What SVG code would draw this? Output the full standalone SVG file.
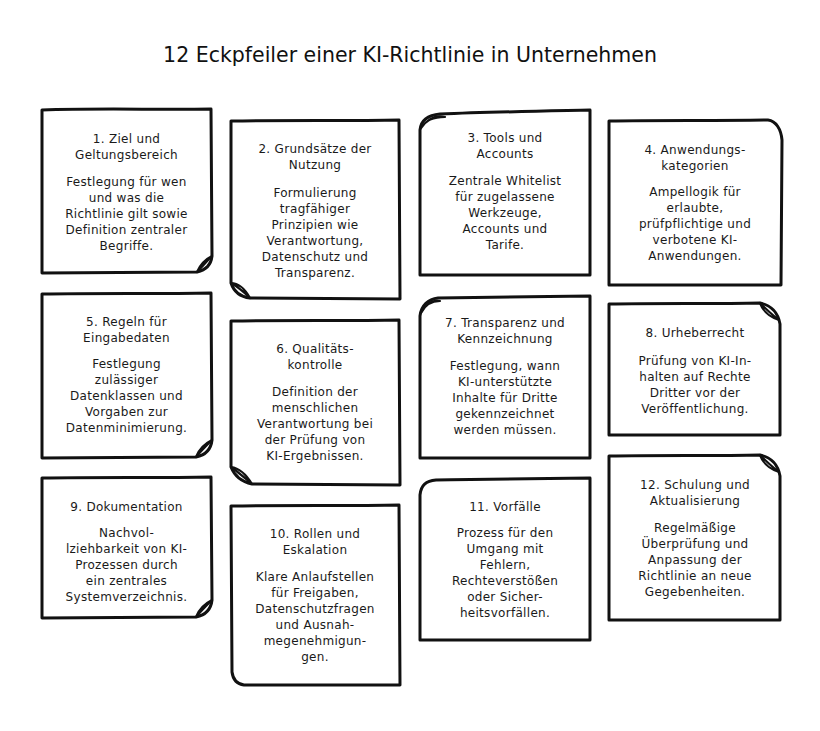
<svg xmlns="http://www.w3.org/2000/svg" width="820" height="731" viewBox="0 0 820 731">
<style>
.bg{fill:#ffffff}
.card{fill:#ffffff;stroke:#111111;stroke-width:3;stroke-linejoin:round;stroke-linecap:round}
.fold{fill:#ffffff;stroke:#111111;stroke-width:2.2;stroke-linejoin:round;stroke-linecap:round}
.t{font-family:"DejaVu Sans","Liberation Sans",sans-serif;font-size:12px;letter-spacing:0.3px;fill:#1a1a1a;text-anchor:middle}
.h{font-family:"DejaVu Sans","Liberation Sans",sans-serif;font-size:20.5px;fill:#111111;text-anchor:middle}
</style>
<rect class="bg" x="0" y="0" width="820" height="731"/>
<text class="h" x="410" y="62">12 Eckpfeiler einer KI-Richtlinie in Unternehmen</text>

<g id="card1">
<path class="card" d="M42,110 C100,108 160,110 211,109 L212,256 C211,265 206,270 197,272 L42,273 Z"/>
<path class="fold" d="M197,272 C200,265 204,260 212,256 C206,262 202,267 197,272 Z"/>
<text class="t" x="126.5" y="143">1. Ziel und</text>
<text class="t" x="126.5" y="159">Geltungsbereich</text>
<text class="t" x="126.5" y="186">Festlegung für wen</text>
<text class="t" x="126.5" y="202">und was die</text>
<text class="t" x="126.5" y="218">Richtlinie gilt sowie</text>
<text class="t" x="126.5" y="234">Definition zentraler</text>
<text class="t" x="126.5" y="250">Begriffe.</text>
</g>

<g id="card2">
<path class="card" d="M231,121 C290,120 350,121 399,120 L400,299 L250,298 C241,297 234,292 231,283 Z"/>
<path class="fold" d="M231,283 C238,283 245,289 250,298 C244,292 238,287 231,283 Z"/>
<text class="t" x="315" y="153">2. Grundsätze der</text>
<text class="t" x="315" y="169">Nutzung</text>
<text class="t" x="315" y="197">Formulierung</text>
<text class="t" x="315" y="213">tragfähiger</text>
<text class="t" x="315" y="229">Prinzipien wie</text>
<text class="t" x="315" y="245">Verantwortung,</text>
<text class="t" x="315" y="261">Datenschutz und</text>
<text class="t" x="315" y="277">Transparenz.</text>
</g>

<g id="card3">
<path class="card" d="M420,275 L420,130 C421,120 428,115 440,114 C490,112 545,111 590,110 L590,275 Z"/>
<path class="fold" d="M421,128 C425,121 433,117 445,117 C437,115 428,118 421,128 Z"/>
<text class="t" x="505" y="142">3. Tools und</text>
<text class="t" x="505" y="158">Accounts</text>
<text class="t" x="505" y="185">Zentrale Whitelist</text>
<text class="t" x="505" y="201">für zugelassene</text>
<text class="t" x="505" y="217">Werkzeuge,</text>
<text class="t" x="505" y="233">Accounts und</text>
<text class="t" x="505" y="249">Tarife.</text>
</g>

<g id="card4">
<path class="card" d="M609,121 C660,120 720,121 768,120 C776,121 781,129 782,140 L781,285 L609,285 Z"/>
<text class="t" x="695" y="154">4. Anwendungs-</text>
<text class="t" x="695" y="170">kategorien</text>
<text class="t" x="695" y="196">Ampellogik für</text>
<text class="t" x="695" y="212">erlaubte,</text>
<text class="t" x="695" y="228">prüfpflichtige und</text>
<text class="t" x="695" y="244">verbotene KI-</text>
<text class="t" x="695" y="260">Anwendungen.</text>
</g>

<g id="card5">
<path class="card" d="M42,294 C100,293 160,294 211,293 L212,440 C211,449 206,455 196,457 L42,458 Z"/>
<path class="fold" d="M196,457 C199,449 204,444 212,440 C206,446 201,451 196,457 Z"/>
<text class="t" x="126.5" y="326">5. Regeln für</text>
<text class="t" x="126.5" y="342">Eingabedaten</text>
<text class="t" x="126.5" y="368">Festlegung</text>
<text class="t" x="126.5" y="384">zulässiger</text>
<text class="t" x="126.5" y="400">Datenklassen und</text>
<text class="t" x="126.5" y="416">Vorgaben zur</text>
<text class="t" x="126.5" y="432">Datenminimierung.</text>
</g>

<g id="card6">
<path class="card" d="M231,321 C290,320 350,321 399,320 L400,485 L252,484 C242,482 235,477 231,467 Z"/>
<path class="fold" d="M231,467 C239,468 246,474 252,484 C245,478 238,472 231,467 Z"/>
<text class="t" x="315" y="353">6. Qualitäts-</text>
<text class="t" x="315" y="369">kontrolle</text>
<text class="t" x="315" y="396">Definition der</text>
<text class="t" x="315" y="412">menschlichen</text>
<text class="t" x="315" y="428">Verantwortung bei</text>
<text class="t" x="315" y="444">der Prüfung von</text>
<text class="t" x="315" y="460">KI-Ergebnissen.</text>
</g>

<g id="card7">
<path class="card" d="M420,458 L420,316 C421,306 428,299 438,298 C490,297 545,297 590,296 L590,458 Z"/>
<path class="fold" d="M421,313 C425,305 432,301 440,301 C433,299 426,304 421,313 Z"/>
<text class="t" x="505" y="327">7. Transparenz und</text>
<text class="t" x="505" y="343">Kennzeichnung</text>
<text class="t" x="505" y="370">Festlegung, wann</text>
<text class="t" x="505" y="386">KI-unterstützte</text>
<text class="t" x="505" y="402">Inhalte für Dritte</text>
<text class="t" x="505" y="418">gekennzeichnet</text>
<text class="t" x="505" y="434">werden müssen.</text>
</g>

<g id="card8">
<path class="card" d="M609,304 C660,303 715,304 760,303 C771,305 778,313 780,324 L780,435 L609,435 Z"/>
<path class="fold" d="M760,303 C763,311 769,317 779,320 C771,314 766,309 760,303 Z"/>
<text class="t" x="695" y="337">8. Urheberrecht</text>
<text class="t" x="695" y="365">Prüfung von KI-In-</text>
<text class="t" x="695" y="381">halten auf Rechte</text>
<text class="t" x="695" y="397">Dritter vor der</text>
<text class="t" x="695" y="413">Veröffentlichung.</text>
</g>

<g id="card9">
<path class="card" d="M42,478 C100,477 160,478 211,477 L212,600 C211,609 206,615 196,617 L42,618 Z"/>
<path class="fold" d="M196,617 C199,609 204,604 212,600 C206,606 201,611 196,617 Z"/>
<text class="t" x="126.5" y="511">9. Dokumentation</text>
<text class="t" x="126.5" y="537">Nachvol-</text>
<text class="t" x="126.5" y="553">lziehbarkeit von KI-</text>
<text class="t" x="126.5" y="569">Prozessen durch</text>
<text class="t" x="126.5" y="585">ein zentrales</text>
<text class="t" x="126.5" y="601">Systemverzeichnis.</text>
</g>

<g id="card10">
<path class="card" d="M231,506 C290,505 350,506 399,505 L400,685 L244,685 C237,684 233,680 232,672 Z"/>
<text class="t" x="315" y="538">10. Rollen und</text>
<text class="t" x="315" y="554">Eskalation</text>
<text class="t" x="315" y="581">Klare Anlaufstellen</text>
<text class="t" x="315" y="597">für Freigaben,</text>
<text class="t" x="315" y="613">Datenschutzfragen</text>
<text class="t" x="315" y="629">und Ausnah-</text>
<text class="t" x="315" y="645">megenehmigun-</text>
<text class="t" x="315" y="661">gen.</text>
</g>

<g id="card11">
<path class="card" d="M420,640 L420,495 C421,485 426,481 436,480 C490,479 545,479 590,478 L590,640 Z"/>
<text class="t" x="505" y="511">11. Vorfälle</text>
<text class="t" x="505" y="537">Prozess für den</text>
<text class="t" x="505" y="553">Umgang mit</text>
<text class="t" x="505" y="569">Fehlern,</text>
<text class="t" x="505" y="585">Rechteverstößen</text>
<text class="t" x="505" y="601">oder Sicher-</text>
<text class="t" x="505" y="617">heitsvorfällen.</text>
</g>

<g id="card12">
<path class="card" d="M609,456 C660,455 715,456 760,455 C771,457 778,465 780,476 L780,620 L609,620 Z"/>
<path class="fold" d="M760,455 C763,463 769,469 779,472 C771,466 766,461 760,455 Z"/>
<text class="t" x="695" y="489">12. Schulung und</text>
<text class="t" x="695" y="505">Aktualisierung</text>
<text class="t" x="695" y="532">Regelmäßige</text>
<text class="t" x="695" y="548">Überprüfung und</text>
<text class="t" x="695" y="564">Anpassung der</text>
<text class="t" x="695" y="580">Richtlinie an neue</text>
<text class="t" x="695" y="596">Gegebenheiten.</text>
</g>
</svg>
